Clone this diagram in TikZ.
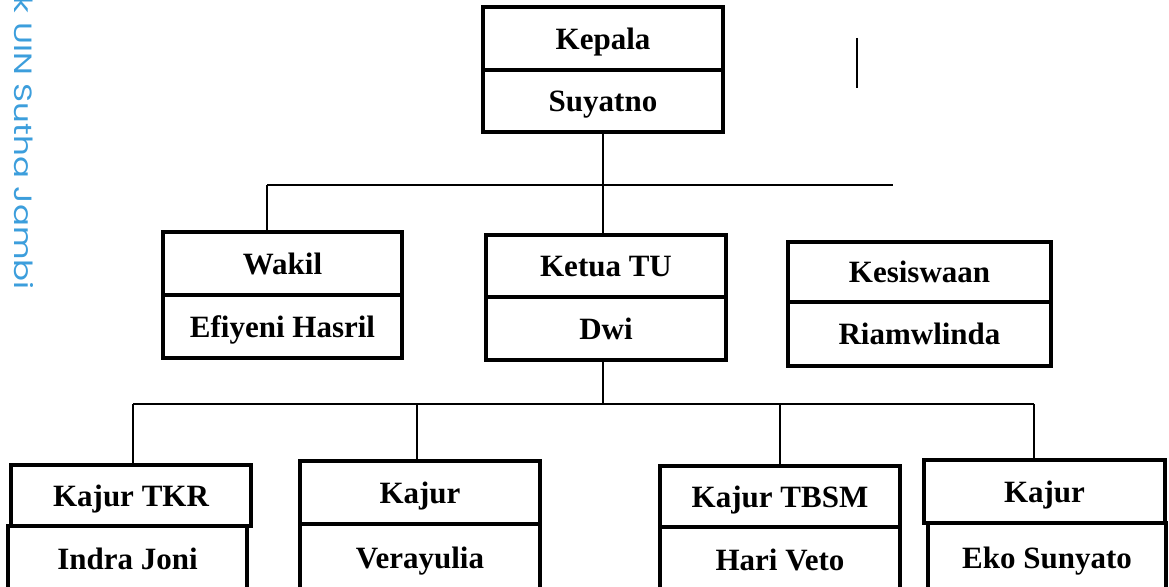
\documentclass[tikz,border=0pt]{standalone}
\usepackage{fontspec}
\setmainfont{Liberation Serif}
\newfontfamily\wmfont{Poppins}
\definecolor{wmblue}{RGB}{60,158,220}
\begin{document}
\begin{tikzpicture}[x=0.5pt,y=-0.5pt,
  cell/.style={draw=black,line width=2.2pt,inner sep=0pt,align=center,text depth=0pt,
    font=\fontsize{15.5}{18}\selectfont\bfseries},
  conn/.style={draw=black,line width=1pt},
  wm/.style={text=wmblue,font=\wmfont\fontsize{12.5}{14}\selectfont,inner sep=0pt,rotate=-90,xscale=1.3}]
\useasboundingbox (0,0) rectangle (1169,587);
\clip (0,0) rectangle (1169,587);
% watermark
\node[wm,anchor=base east] (wmark) at (15,290) {k UIN Sutha Jambi};
% top
\node[cell,minimum width=120pt,minimum height=31.5pt] (kepala) at (603,38.5) {Kepala};
\node[cell,minimum width=120pt,minimum height=31pt] (suyatno) at (603,101) {Suyatno};
% second level
\node[cell,minimum width=119.5pt,minimum height=31.5pt] (wakil) at (282.5,263.5) {Wakil};
\node[cell,minimum width=119.5pt,minimum height=31.5pt] (efiyeni) at (282.5,326.5) {Efiyeni Hasril};
\node[cell,minimum width=120pt,minimum height=31pt] (ketua) at (606,266) {Ketua TU};
\node[cell,minimum width=120pt,minimum height=31.5pt] (dwi) at (606,328.5) {Dwi};
\node[cell,minimum width=131.5pt,minimum height=30pt] (kesiswaan) at (919.5,272) {Kesiswaan};
\node[cell,minimum width=131.5pt,minimum height=32pt] (riam) at (919.5,334) {Riamwlinda};
% third level
\node[cell,minimum width=120pt,minimum height=30.5pt] (tkr) at (131,495.5) {Kajur TKR};
\node[cell,minimum width=119.5pt,minimum height=33pt] (indra) at (127.5,559) {Indra Joni};
\node[cell,minimum width=120pt,minimum height=31.5pt] (kajurv) at (420,492.5) {Kajur};
\node[cell,minimum width=120pt,minimum height=34pt] (vera) at (420,558) {Verayulia};
\node[cell,minimum width=120pt,minimum height=30.5pt] (tbsm) at (780,496.5) {Kajur TBSM};
\node[cell,minimum width=120pt,minimum height=32.5pt] (hari) at (780,559.5) {Hari Veto};
\node[cell,minimum width=120.5pt,minimum height=31.5pt] (kajure) at (1044.5,491.5) {Kajur};
\node[cell,minimum width=119pt,minimum height=34.5pt] (eko) at (1047,557.5) {Eko Sunyato};
% connectors
\coordinate (j1) at (603,185);
\coordinate (j1l) at (267,185);
\coordinate (j1r) at (893,185);
\coordinate (s1) at (857,38);
\coordinate (s2) at (857,88);
\coordinate (j2) at (603,404);
\coordinate (j2l) at (133,404);
\coordinate (j2a) at (417,404);
\coordinate (j2b) at (780,404);
\coordinate (j2r) at (1034,404);
\draw[conn] (suyatno.south) -- (j1);
\draw[conn] (j1l) -- (j1r);
\draw[conn] (j1l) -- (j1l |- wakil.north);
\draw[conn] (j1) -- (j1 |- ketua.north);
\draw[conn] (s1) -- (s2);
\draw[conn] (j2 |- dwi.south) -- (j2);
\draw[conn] (j2l) -- (j2r);
\draw[conn] (j2l) -- (j2l |- tkr.north);
\draw[conn] (j2a) -- (j2a |- kajurv.north);
\draw[conn] (j2b) -- (j2b |- tbsm.north);
\draw[conn] (j2r) -- (j2r |- kajure.north);
\end{tikzpicture}
\end{document}
